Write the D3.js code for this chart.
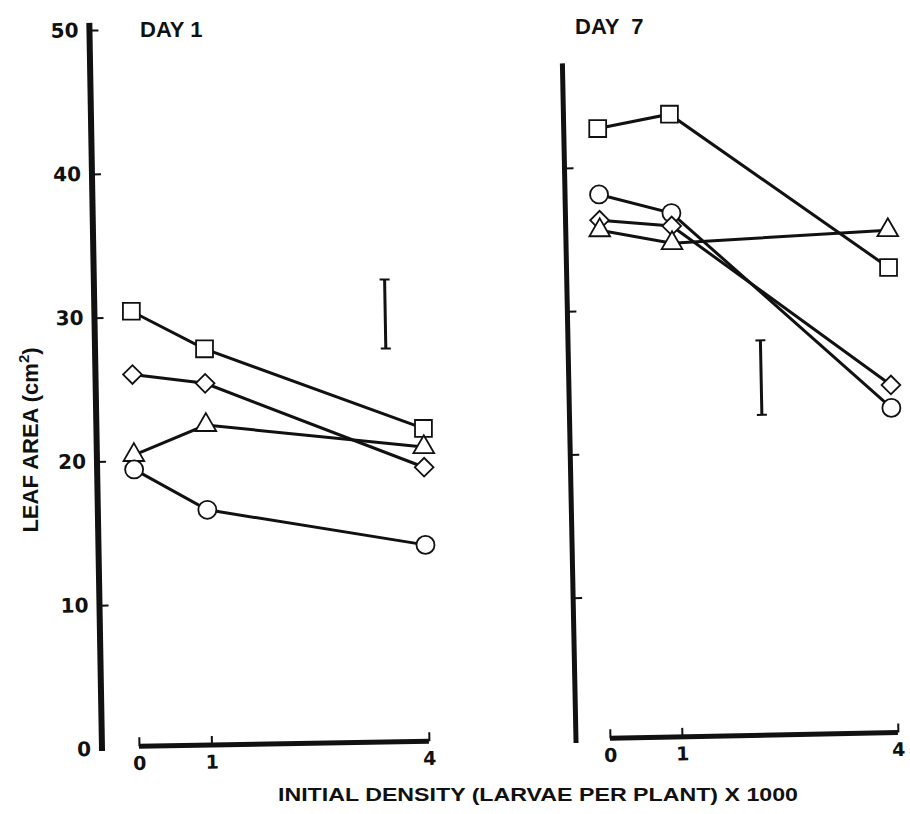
<!DOCTYPE html>
<html><head><meta charset="utf-8">
<script src="https://cdn.jsdelivr.net/npm/d3@7"></script>
<style>body{margin:0;background:#fff}</style>
</head><body>
<svg id="chart" width="910" height="814"></svg>
<script>
// ---- data ----
const densities = [0, 1, 4];
const day1Square   = [30.4, 27.7, 21.9];
const day1Diamond  = [26.0, 25.3, 19.2];
const day1Triangle = [20.4, 22.4, 20.6];
const day1Circle   = [19.4, 16.5, 13.8];
const day7Square   = [42.7, 43.6, 32.6];
const day7Circle   = [38.1, 36.7, 22.8];
const day7Diamond  = [36.3, 35.8, 24.4];
const day7Triangle = [35.6, 34.6, 35.2];
const errorBarX    = [3.5, 2.2];
const errorBarLow  = [27.5, 22.5];
const errorBarHigh = [32.3, 27.7];
const yTicksLeft  = [0, 10, 20, 30, 40, 50];
const yTicksRight = [10, 20, 30, 40];
const xTicks = [0, 1, 4];
const panelTitles = ["DAY 1", "DAY  7"];
const yTitle = "LEAF AREA (cm";
const xTitle = "INITIAL DENSITY (LARVAE PER PLANT) X 1000";

const svg = d3.select("#chart");
const INK = "#111";

const panels = [
  { ox: 102, oy: 749, rot: -1.0, yRange: -719, xRange: [37, 327], yTop: 50.5,
    ticks: yTicksLeft, labels: true, title: panelTitles[0], tx: 140, ty: 37, yw: 6,
    series: [["square", day1Square], ["diamond", day1Diamond], ["triangle", day1Triangle], ["circle", day1Circle]] },
  { ox: 576, oy: 741, rot: -1.15, yRange: -716.5, xRange: [34, 322], yTop: 47.3,
    ticks: yTicksRight, labels: false, title: panelTitles[1], tx: 575, ty: 34, yw: 5,
    series: [["square", day7Square], ["circle", day7Circle], ["diamond", day7Diamond], ["triangle", day7Triangle]] }
];

const symbols = {
  square:   { type: d3.symbolSquare,   size: 285, rot: 0 },
  circle:   { type: d3.symbolCircle,   size: 255, rot: 0 },
  diamond:  { type: d3.symbolSquare,   size: 175, rot: 45 },
  triangle: { type: d3.symbolTriangle, size: 185, rot: 0 }
};

panels.forEach((p, pi) => {
  const g = svg.append("g").attr("transform", `translate(${p.ox},${p.oy}) rotate(${p.rot})`);
  const y = d3.scaleLinear().domain([0, 50]).range([0, p.yRange]);
  const x = d3.scaleLinear().domain([0, 4]).range(p.xRange);

  // y axis ticks + labels
  const ya = d3.axisLeft(y).tickValues(p.ticks).tickSizeInner(-9).tickSizeOuter(0).tickPadding(11)
    .tickFormat(p.labels ? d3.format("d") : () => "");
  const yg = g.append("g").call(ya);
  yg.select(".domain").remove();
  yg.selectAll(".tick line").attr("stroke", INK).attr("stroke-width", 2)
    .filter(d => d === 0).remove();
  yg.selectAll(".tick text").attr("font-family", "DejaVu Sans").attr("font-weight", "bold")
    .attr("font-size", 20).attr("fill", INK);
  // thick y axis line
  g.append("line").attr("x1", 0).attr("x2", 0).attr("y1", y(0) + 2).attr("y2", y(p.yTop))
    .attr("stroke", INK).attr("stroke-width", p.yw);

  // x axis
  const xa = d3.axisBottom(x).tickValues(xTicks).tickSizeInner(-9).tickSizeOuter(0).tickPadding(10)
    .tickFormat(d3.format("d"));
  const xg = g.append("g").attr("transform", `translate(0,${y(0) - 2})`).call(xa);
  xg.select(".domain").remove();
  xg.selectAll(".tick line").attr("stroke", INK).attr("stroke-width", 2);
  xg.selectAll(".tick text").attr("font-family", "DejaVu Sans").attr("font-weight", "bold")
    .attr("font-size", 19).attr("fill", INK);
  xg.append("line").attr("x1", x(0)).attr("x2", x(4)).attr("y1", 0).attr("y2", 0)
    .attr("stroke", INK).attr("stroke-width", 5);

  // error bar
  const ex = x(errorBarX[pi]);
  const eb = g.append("g").attr("stroke", INK);
  eb.append("line").attr("x1", ex).attr("x2", ex).attr("y1", y(errorBarLow[pi])).attr("y2", y(errorBarHigh[pi])).attr("stroke-width", 3);
  [errorBarLow[pi], errorBarHigh[pi]].forEach(v => {
    eb.append("line").attr("x1", ex - 5).attr("x2", ex + 5).attr("y1", y(v)).attr("y2", y(v)).attr("stroke-width", 2);
  });

  // lines
  const line = d3.line().x((d, i) => x(densities[i])).y(d => y(d));
  p.series.forEach(([shape, vals]) => {
    g.append("path").datum(vals).attr("d", line).attr("fill", "none")
      .attr("stroke", INK).attr("stroke-width", 3);
  });
  // markers
  p.series.forEach(([shape, vals]) => {
    const s = symbols[shape];
    g.selectAll(null).data(vals).join("path")
      .attr("d", d3.symbol().type(s.type).size(s.size))
      .attr("transform", (d, i) => `translate(${x(densities[i])},${y(d)}) rotate(${s.rot - p.rot})`)
      .attr("fill", "#fff").attr("stroke", INK).attr("stroke-width", 1.8);
  });

  // panel title
  svg.append("text").attr("x", p.tx).attr("y", p.ty).text(p.title)
    .attr("font-family", "Liberation Sans").attr("font-weight", "bold").attr("font-size", 22)
    .attr("fill", INK).attr("xml:space", "preserve").style("white-space", "pre");
});

// y title
const yt = svg.append("text").attr("transform", "translate(38,440) rotate(-90)")
  .attr("text-anchor", "middle").attr("font-family", "Liberation Sans").attr("font-weight", "bold")
  .attr("font-size", 22).attr("fill", INK);
yt.append("tspan").text(yTitle);
yt.append("tspan").attr("dy", -9).attr("font-size", 15).text("2");
yt.append("tspan").attr("dy", 9).text(")");

// x title
svg.append("text").attr("x", 538).attr("y", 801).attr("text-anchor", "middle")
  .attr("font-family", "Liberation Sans").attr("font-weight", "bold").attr("font-size", 19)
  .attr("textLength", 520).attr("lengthAdjust", "spacingAndGlyphs")
  .attr("fill", INK).text(xTitle);
</script>
</body></html>
